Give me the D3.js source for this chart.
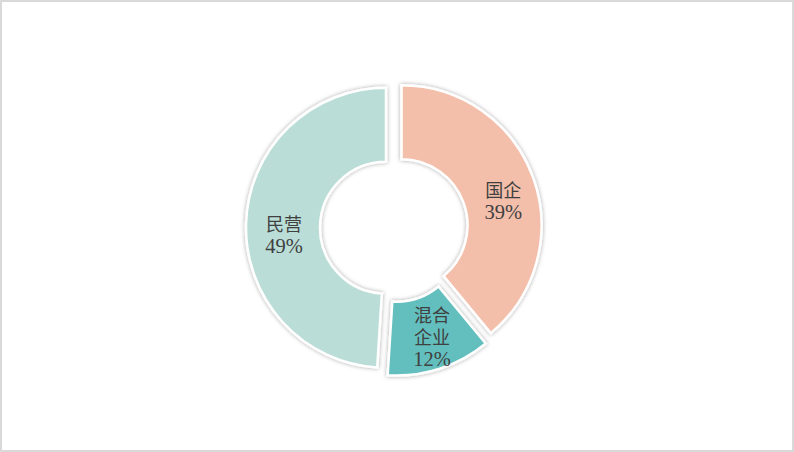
<!DOCTYPE html>
<html>
<head>
<meta charset="utf-8">
<script src="https://cdn.jsdelivr.net/npm/d3@7"></script>
<style>
  body { margin: 0; background: #fff; }
  svg { display: block; }
  .lbl { font-family: "Liberation Serif", "Noto Sans CJK SC", serif; font-size: 18px; fill: #404040; }
  .pct { font-size: 20.5px; }
</style>
</head>
<body>
<svg width="794" height="452"></svg>
<script>
// data
const categories = ["国企", "混合企业", "民营"];
const labelLines = [["国企"], ["混合", "企业"], ["民营"]];
const shares = [39, 12, 49];
const colors = ["#F3BEAA", "#62BFBE", "#BADED7"];

const svg = d3.select("svg");
const W = 794, H = 452;

// chart frame
svg.append("rect")
    .attr("x", 1).attr("y", 1)
    .attr("width", W - 2).attr("height", H - 2)
    .attr("fill", "#fff")
    .attr("stroke", "#d9d9d9")
    .attr("stroke-width", 2);

// soft shadow for the slices
const defs = svg.append("defs");
const f = defs.append("filter").attr("id", "shadow")
    .attr("x", "-20%").attr("y", "-20%").attr("width", "140%").attr("height", "140%");
f.append("feDropShadow")
    .attr("dx", 0).attr("dy", 0)
    .attr("stdDeviation", 2.2)
    .attr("flood-color", "#000")
    .attr("flood-opacity", 0.35);

const cx = 394, cy = 228;
const outerR = 140, innerR = 66, explode = 8;

const pie = d3.pie().sort(null).value(d => d);
const arc = d3.arc().innerRadius(innerR).outerRadius(outerR);
const arcs = pie(shares);

const g = svg.append("g").attr("transform", `translate(${cx},${cy})`);

const slice = g.selectAll("g.slice")
    .data(arcs)
    .enter().append("g")
    .attr("class", "slice")
    .attr("transform", d => {
        const a = (d.startAngle + d.endAngle) / 2;
        return `translate(${Math.sin(a) * explode},${-Math.cos(a) * explode})`;
    });

slice.append("path")
    .attr("d", arc)
    .attr("fill", (d, i) => colors[i])
    .attr("stroke", "#fff")
    .attr("stroke-width", 2.5)
    .attr("filter", "url(#shadow)");

// labels
const labelArc = d3.arc().innerRadius((innerR + outerR) / 2 + 2).outerRadius((innerR + outerR) / 2 + 2);
const lineH = 22;
slice.each(function(d, i) {
    const lines = labelLines[i].concat([shares[i] + "%"]);
    let [x, y] = labelArc.centroid(d);
    if (lines.length < 3) y += 9;   // two-line labels sit a bit lower
    x += 3;
    y += 3;
    const t = d3.select(this).append("text")
        .attr("class", "lbl")
        .attr("text-anchor", "middle");
    const y0 = y - (lines.length - 1) * lineH / 2 + 6;
    lines.forEach((s, k) => {
        t.append("tspan")
            .attr("class", k === lines.length - 1 ? "pct" : null)
            .attr("x", x)
            .attr("y", y0 + k * lineH)
            .text(s);
    });
});
</script>
</body>
</html>
